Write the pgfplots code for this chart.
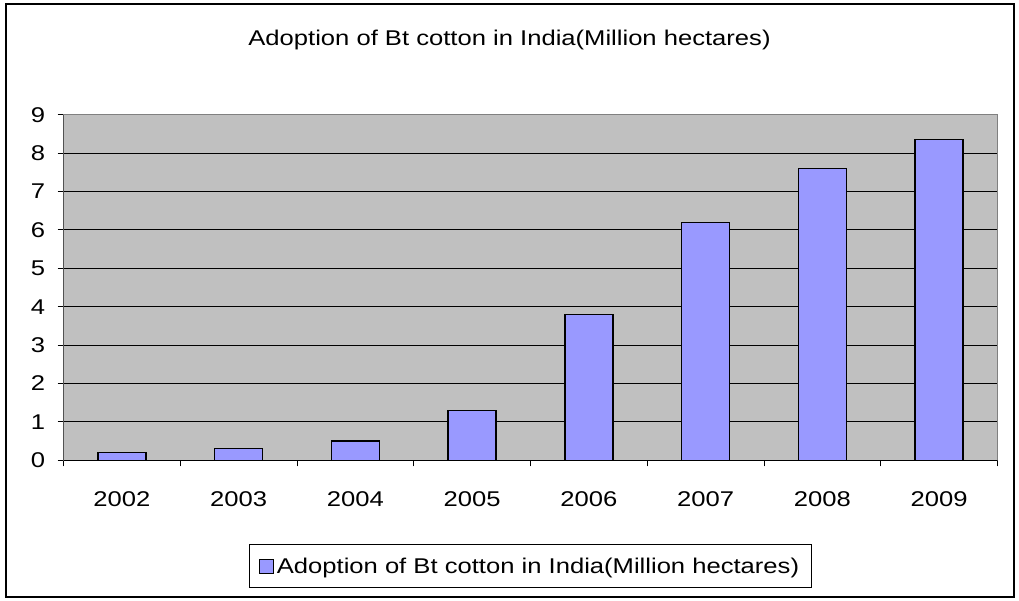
\documentclass[border=0pt]{standalone}
\usepackage{fontspec}
\setmainfont{Liberation Sans}[FakeStretch=1.2]
\usepackage{pgfplots}
\pgfplotsset{compat=1.18}
\definecolor{PlotGray}{HTML}{C0C0C0}
\definecolor{BarBlue}{HTML}{9999FF}
\definecolor{EdgeGray}{HTML}{808080}

\begin{document}
\begin{tikzpicture}[x=0.75pt,y=0.75pt]
% whole chart area, 1019 x 600 px
\path (0,0) rectangle (1019,600);
\draw[black,line width=1.5pt] (5.5,3.5) rectangle (1013.5,596);
\node[font=\fontsize{16}{19}\selectfont] at (509.5,560)
  {Adoption of Bt cotton in India(Million hectares)};
\begin{axis}[
  at={(47.625pt,104.775pt)}, anchor=south west,
  scale only axis, width=700.5pt, height=259.1pt,
  ybar, bar width=36pt, bar shift=0pt,
  xmin=-0.5, xmax=7.5, ymin=0, ymax=9,
  axis background/.style={fill=PlotGray},
  axis line style={EdgeGray,line width=0.75pt},
  ytick={0,1,...,9}, ytick pos=left, xtick pos=bottom,
  xtick={-0.5,0.5,...,7.5}, xticklabels={},
  extra x ticks={0,1,...,7},
  extra x tick labels={2002,2003,2004,2005,2006,2007,2008,2009},
  extra x tick style={major tick length=0pt},
  tick align=outside, major tick length=4.5pt,
  tick style={black,line width=0.75pt},
  ymajorgrids, grid style={black,line width=0.75pt},
  /pgf/number format/assume math mode=true,
  tick label style={font=\fontsize{16}{19}\selectfont},
  yticklabel style={inner sep=0pt,xshift=-9pt},
  xticklabel style={inner sep=0pt,yshift=-23.5pt},
  legend style={at={(0.5,-0.307)},anchor=center,draw=black,line width=0.75pt,
    fill=white,font=\fontsize{16}{19}\selectfont,inner xsep=7pt,inner ysep=7.5pt},
  legend image code/.code={\draw[fill=BarBlue,draw=black,line width=0.75pt]
    (0pt,-5.25pt) rectangle (10.5pt,5.25pt);},
]
\addplot[fill=BarBlue,draw=black,line width=1pt] coordinates {
  (0,0.2) (1,0.3) (2,0.5) (3,1.3) (4,3.8) (5,6.2) (6,7.6) (7,8.35)};
\addlegendentry{Adoption of Bt cotton in India(Million hectares)}
\draw[black,line width=0.75pt] (rel axis cs:0,1) -- (rel axis cs:0,0) -- (rel axis cs:1,0);
\end{axis}
\end{tikzpicture}
\end{document}
